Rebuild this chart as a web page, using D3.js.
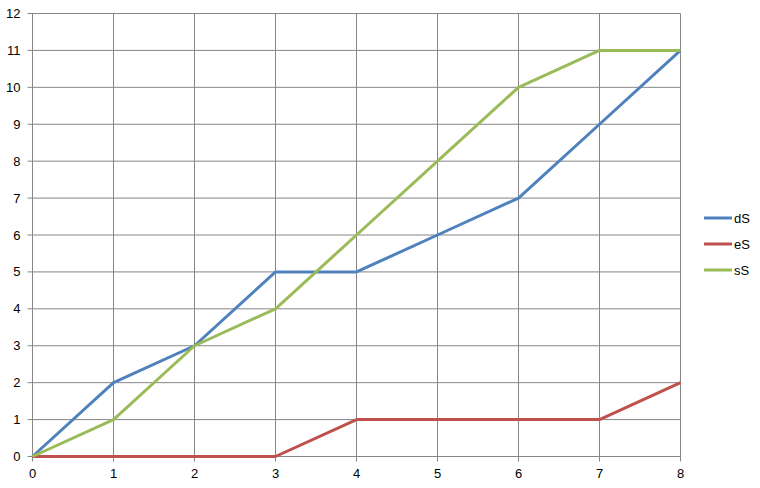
<!DOCTYPE html>
<html><head><meta charset="utf-8">
<script src="https://cdn.jsdelivr.net/npm/d3@7"></script>
<style>body{margin:0;background:#fff}svg{display:block}</style>
</head><body>
<script>
const categories = [0,1,2,3,4,5,6,7,8];
const dS = [0,2,3,5,5,6,7,9,11];
const eS = [0,0,0,0,1,1,1,1,2];
const sS = [0,1,3,4,6,8,10,11,11];
const yTicks = [0,1,2,3,4,5,6,7,8,9,10,11,12];
const seriesNames = ["dS","eS","sS"];
const colors = ["#4F81BD","#C0504D","#9BBB59"];
const series = [dS,eS,sS];

const W=760,H=488;
const svg=d3.select("body").append("svg").attr("width",W).attr("height",H);
const x=d3.scaleLinear().domain([0,8]).range([32.5,680.5]);
const y=d3.scaleLinear().domain([0,12]).range([456.5,13.5]);
const font="'Liberation Sans', Arial, sans-serif";
const grid="#868686";

const g=svg.append("g");
// horizontal grid
g.selectAll(".hg").data(yTicks).join("line")
 .attr("x1",x(0)-5).attr("x2",x(8)).attr("y1",d=>y(d)).attr("y2",d=>y(d))
 .attr("stroke",grid).attr("stroke-width",1);
// vertical grid
g.selectAll(".vg").data(categories).join("line")
 .attr("x1",d=>x(d)).attr("x2",d=>x(d)).attr("y1",y(12)).attr("y2",y(0)+5)
 .attr("stroke",grid).attr("stroke-width",1);

// y labels
g.selectAll(".yl").data(yTicks).join("text")
 .attr("x",x(0)-12).attr("y",d=>y(d)).attr("dy","0.35em")
 .attr("text-anchor","end").attr("font-family",font).attr("font-size",13).attr("fill","#000")
 .text(d=>d);
// x labels
g.selectAll(".xl").data(categories).join("text")
 .attr("x",d=>x(d)).attr("y",y(0)+17).attr("dy","0.35em")
 .attr("text-anchor","middle").attr("font-family",font).attr("font-size",13).attr("fill","#000")
 .text(d=>d);

const line=d3.line().x((d,i)=>x(categories[i])).y(d=>y(d));
series.forEach((s,i)=>{
  g.append("path").attr("d",line(s)).attr("fill","none")
   .attr("stroke",colors[i]).attr("stroke-width",3).attr("stroke-linejoin","round");
});

// legend
const leg=svg.append("g");
seriesNames.forEach((n,i)=>{
  const ly=218+i*26;
  leg.append("line").attr("x1",704).attr("x2",732).attr("y1",ly).attr("y2",ly)
    .attr("stroke",colors[i]).attr("stroke-width",3);
  leg.append("text").attr("x",734).attr("y",ly).attr("dy","0.35em")
    .attr("font-family",font).attr("font-size",13).attr("fill","#000").text(n);
});
</script>
</body></html>
